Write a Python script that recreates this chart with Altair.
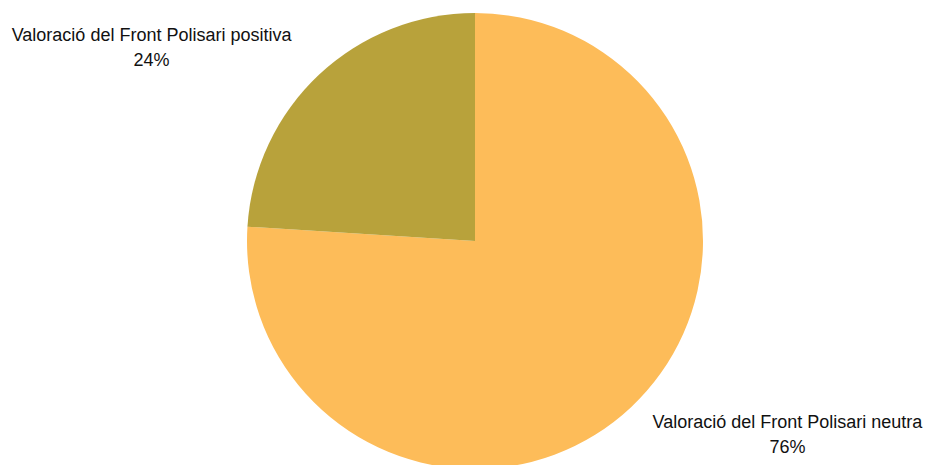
import altair as alt
import pandas as pd

categories = ["Valoració del Front Polisari neutra", "Valoració del Front Polisari positiva"]
values = [76, 24]
percent_labels = ["76%", "24%"]
order = [0, 1]
colors = ["#FDBC59", "#B8A23B"]

df = pd.DataFrame({
    "cat": categories,
    "value": values,
    "pct": percent_labels,
    "ord": order,
})
df["label"] = [[c, p] for c, p in zip(df["cat"], df["pct"])]

base = alt.Chart(df).encode(
    theta=alt.Theta("value:Q", stack=True),
    order=alt.Order("ord:Q"),
)

arc = base.mark_arc(outerRadius=228, stroke=None).encode(
    color=alt.Color("cat:N", scale=alt.Scale(domain=categories, range=colors), legend=None)
)

text_kw = dict(radius=360, font="Liberation Sans", fontSize=18, color="#111111",
               align="center", baseline="middle", lineHeight=25)

t_neu = base.mark_text(dx=66, dy=-80, **text_kw).encode(
    text="label:N",
    opacity=alt.condition(alt.datum.ord == 0, alt.value(1), alt.value(0)),
)
t_pos = base.mark_text(dx=-77, dy=57, **text_kw).encode(
    text="label:N",
    opacity=alt.condition(alt.datum.ord == 1, alt.value(1), alt.value(0)),
)

chart = alt.layer(arc, t_neu, t_pos).properties(
    width=898, height=430,
    padding={"left": 18, "top": 18, "right": 0, "bottom": 17},
    autosize=alt.AutoSizeParams(type="none"),
).configure_view(stroke=None)

chart.save("out.html", embed_options={"renderer": "svg", "actions": False})
